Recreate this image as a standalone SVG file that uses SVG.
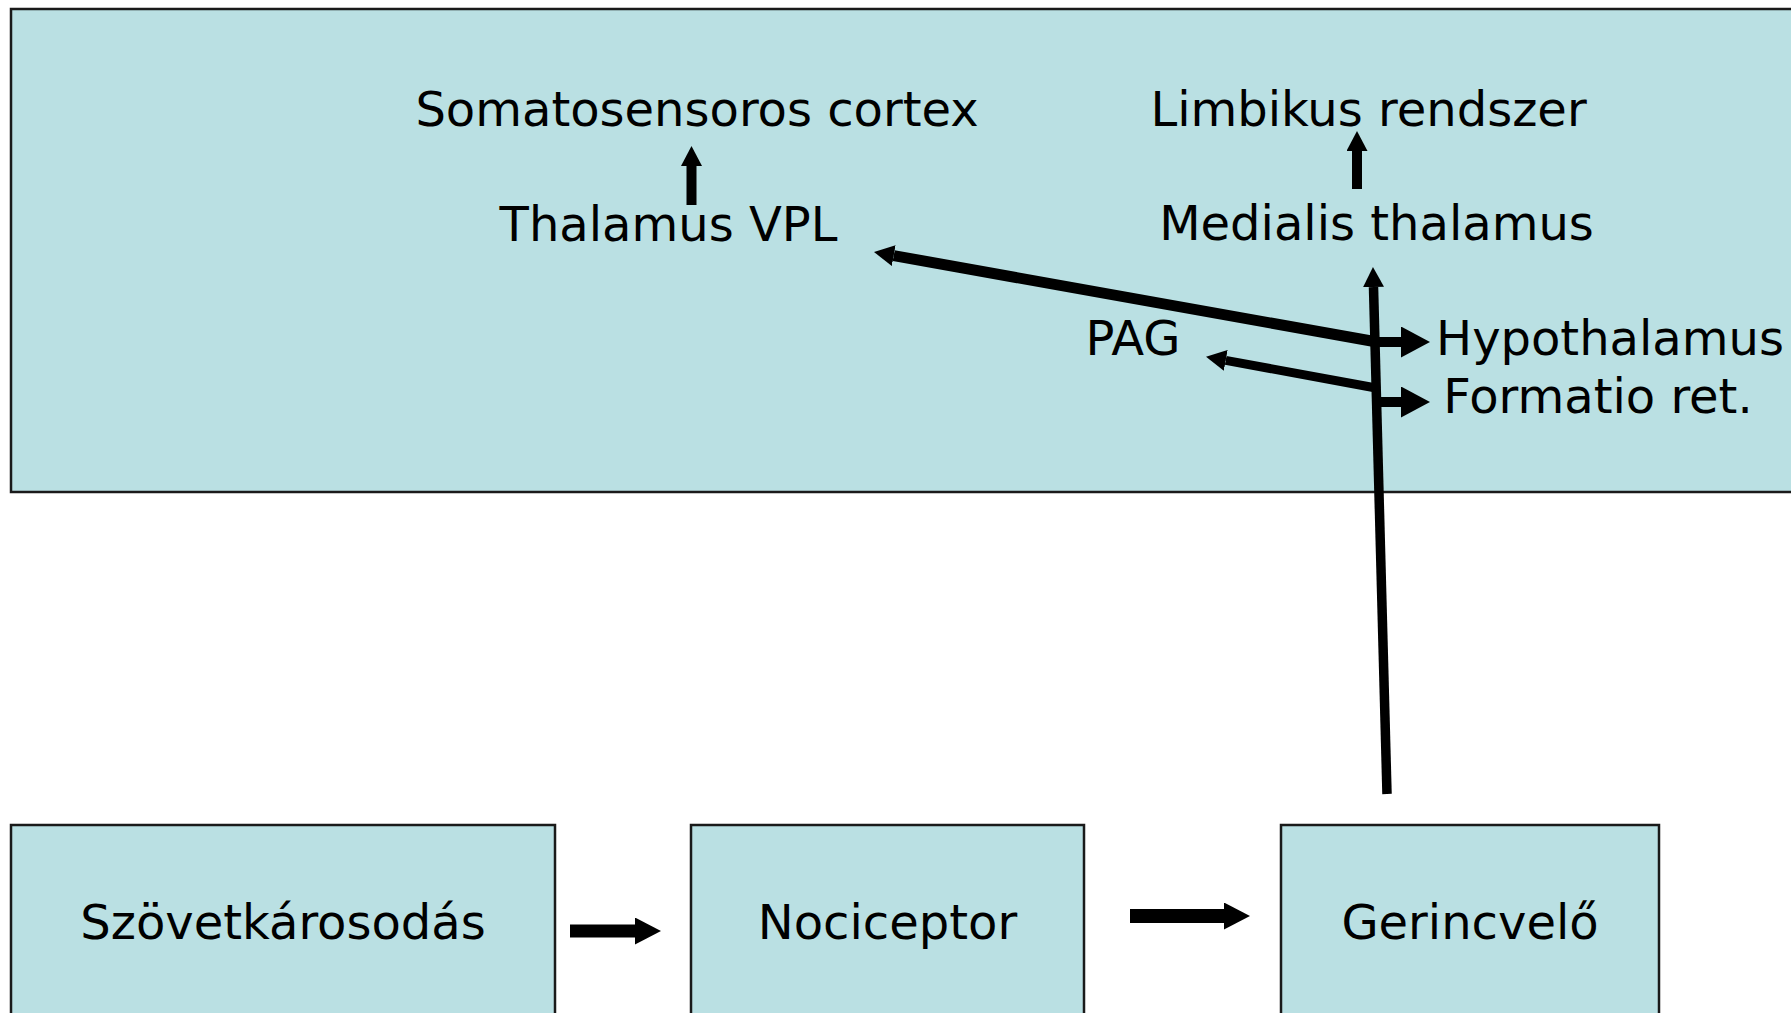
<svg xmlns="http://www.w3.org/2000/svg" width="1791" height="1013" viewBox="0 0 1791 1013">
<style>
.box{fill:#bae0e3;stroke:#1a1a1a;stroke-width:2.5}
.lbl{font-family:"DejaVu Sans","Verdana",sans-serif;font-size:48px;fill:#000;text-anchor:middle}
.c{fill:none;stroke:#000;stroke-linecap:butt}
</style>
<defs>
<marker id="hs" markerUnits="userSpaceOnUse" markerWidth="20" markerHeight="21" viewBox="0 0 20 21" refX="0" refY="10.5" orient="auto"><path d="M0,0 L20,10.5 L0,21 z" fill="#000"/></marker>
<marker id="hb" markerUnits="userSpaceOnUse" markerWidth="29" markerHeight="31" viewBox="0 0 29 31" refX="0" refY="15.5" orient="auto"><path d="M0,0 L29,15.5 L0,31 z" fill="#000"/></marker>
<marker id="hm" markerUnits="userSpaceOnUse" markerWidth="26" markerHeight="27" viewBox="0 0 26 27" refX="0" refY="13.5" orient="auto"><path d="M0,0 L26,13.5 L0,27 z" fill="#000"/></marker>
</defs>
<g id="brain">
<rect class="box" x="11" y="9" width="1800" height="483"/>
</g>
<g id="somatosensoros"><text class="lbl" x="697" y="126">Somatosensoros cortex</text></g>
<g id="thalamus-vpl"><text class="lbl" x="668.5" y="241">Thalamus VPL</text></g>
<g id="limbikus"><text class="lbl" x="1368.5" y="126">Limbikus rendszer</text></g>
<g id="medialis"><text class="lbl" x="1376.5" y="240">Medialis thalamus</text></g>
<g id="pag"><text class="lbl" x="1133" y="355">PAG</text></g>
<g id="hypothalamus"><text class="lbl" x="1610" y="355">Hypothalamus</text></g>
<g id="formatio"><text class="lbl" x="1598" y="413">Formatio ret.</text></g>
<g id="szovet">
<rect class="box" x="11" y="825" width="544" height="220"/>
<text class="lbl" x="283" y="939">Szövetkárosodás</text>
</g>
<g id="nociceptor">
<rect class="box" x="691" y="825" width="393" height="220"/>
<text class="lbl" x="887.5" y="939">Nociceptor</text>
</g>
<g id="gerincvelo">
<rect class="box" x="1281" y="825" width="378" height="220"/>
<text class="lbl" x="1470" y="939">Gerincvelő</text>
</g>
<g id="connectors">
<path class="c" d="M691.5,205 L691.5,166" stroke-width="10" marker-end="url(#hs)"/>
<path class="c" d="M1357,189 L1357,151" stroke-width="10" marker-end="url(#hs)"/>
<path class="c" d="M1387,794 L1373.5,287" stroke-width="9.5" marker-end="url(#hs)"/>
<path class="c" d="M1377,342 L893.7,255.6" stroke-width="11" marker-end="url(#hs)"/>
<path class="c" d="M1376,388 L1225.7,360.4" stroke-width="9" marker-end="url(#hs)"/>
<path class="c" d="M1373,342 L1401,342" stroke-width="10" marker-end="url(#hb)"/>
<path class="c" d="M1375,402 L1401,402" stroke-width="10" marker-end="url(#hb)"/>
<path class="c" d="M570,931 L635,931" stroke-width="13" marker-end="url(#hm)"/>
<path class="c" d="M1130,916 L1224,916" stroke-width="14" marker-end="url(#hm)"/>
</g>
</svg>
